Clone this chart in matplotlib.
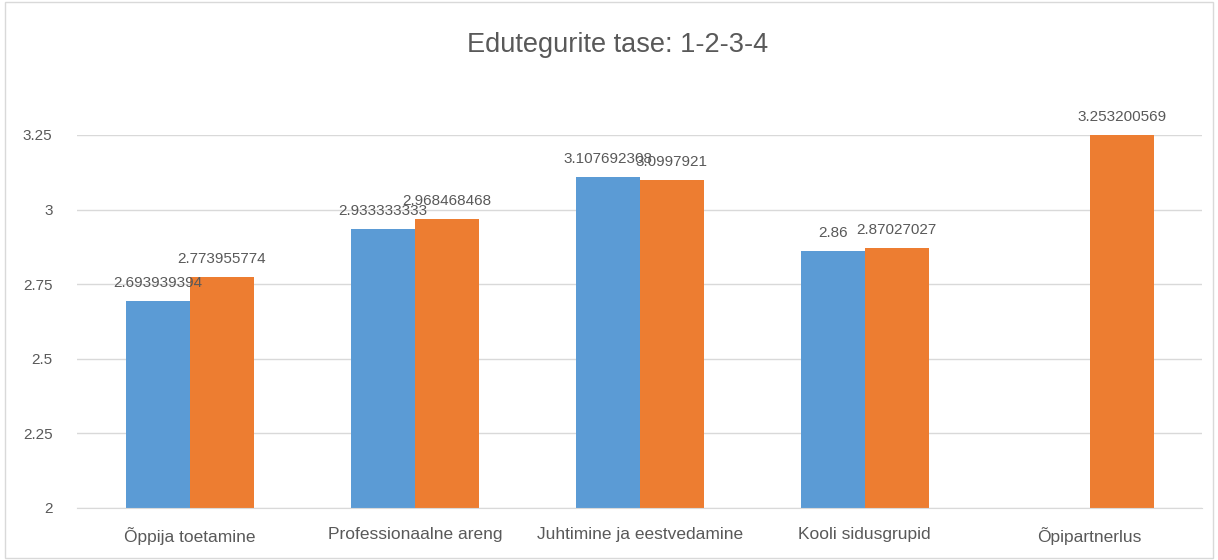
import numpy as np
import matplotlib.pyplot as plt
from matplotlib.patches import Rectangle

# Data
categories = ["Õppija toetamine", "Professionaalne areng", "Juhtimine ja eestvedamine",
              "Kooli sidusgrupid", "Õpipartnerlus"]
series_a = [2.693939394, 2.933333333, 3.107692308, 2.86, np.nan]
series_b = [2.773955774, 2.968468468, 3.0997921, 2.87027027, 3.253200569]
labels_a = ["2.693939394", "2.933333333", "3.107692308", "2.86", ""]
labels_b = ["2.773955774", "2.968468468", "3.0997921", "2.87027027", "3.253200569"]
yticks = [2, 2.25, 2.5, 2.75, 3, 3.25]
ytick_labels = ["2", "2.25", "2.5", "2.75", "3", "3.25"]

BLUE = "#5B9BD5"
ORANGE = "#ED7D31"
TEXT = "#595959"
GRID = "#D9D9D9"

plt.rcParams['font.family'] = ['Liberation Sans', 'DejaVu Sans']

fig = plt.figure(figsize=(12.18, 5.6), dpi=100)
ax = fig.add_axes([0.0636, 0.093, 0.9234, 0.666])

# light border around the chart area
fig.patches.append(Rectangle((0.004, 0.004), 0.992, 0.992, transform=fig.transFigure,
                             fill=False, edgecolor=GRID, linewidth=1))

x = np.arange(len(categories))
w = 0.285
bars_a = ax.bar(x - w / 2, series_a, w, color=BLUE, zorder=3)
bars_b = ax.bar(x + w / 2, series_b, w, color=ORANGE, zorder=3)

for rects, labs in ((bars_a, labels_a), (bars_b, labels_b)):
    for r, lab in zip(rects, labs):
        h = r.get_height()
        if np.isnan(h) or not lab:
            continue
        ax.annotate(lab, (r.get_x() + r.get_width() / 2, min(h, 3.25)),
                    xytext=(0, 8), textcoords="offset points",
                    ha="center", va="bottom", fontsize=11, color=TEXT,
                    annotation_clip=False, zorder=5)

ax.set_ylim(2, 3.25)
ax.set_xlim(-0.5, len(categories) - 0.5)
ax.set_yticks(yticks)
ax.set_yticklabels(ytick_labels)
ax.set_xticks(x)
ax.set_xticklabels(categories)
ax.tick_params(axis="both", length=0, colors=TEXT, labelsize=11)
ax.tick_params(axis="x", pad=14, labelsize=12.5)
ax.tick_params(axis="y", pad=18)
ax.yaxis.grid(True, color=GRID, linewidth=1, zorder=0)
for s in ("top", "right", "left"):
    ax.spines[s].set_visible(False)
ax.spines["bottom"].set_color(GRID)
ax.spines["bottom"].set_zorder(4)

fig.text(0.507, 0.92, "Edutegurite tase: 1-2-3-4", ha="center", va="center",
         fontsize=19.5, color=TEXT)

fig.savefig("out.png", dpi=100)
